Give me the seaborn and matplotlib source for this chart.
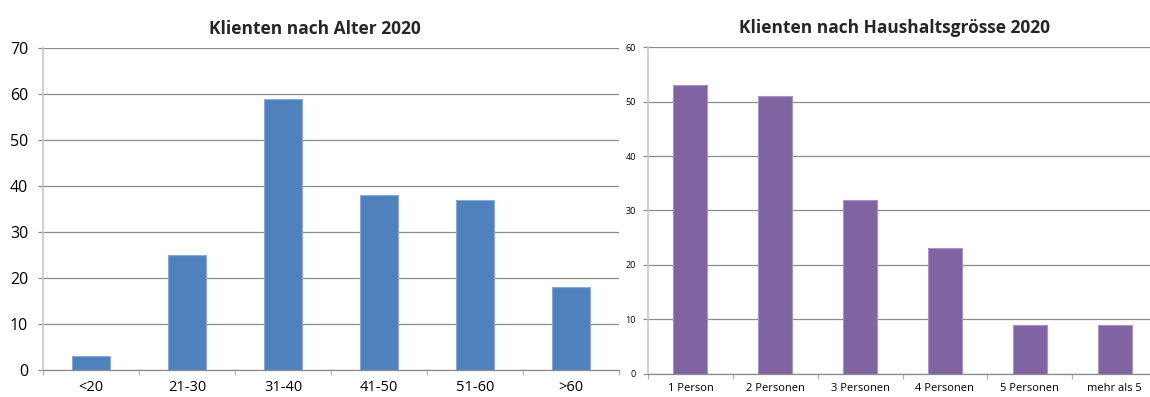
#!/usr/bin/env python3

import pandas as pd
import seaborn as sns
import matplotlib.pyplot as plt
from matplotlib.ticker import FixedLocator

# Chart data
alter_labels = ["<20", "21-30", "31-40", "41-50", "51-60", ">60"]
alter_werte = [3, 25, 59, 38, 37, 18]

haushalt_labels = ["1 Person", "2 Personen", "3 Personen", "4 Personen",
                   "5 Personen", "mehr als 5"]
haushalt_werte = [53, 51, 32, 23, 9, 9]

sns.set_theme()
sns.set_style("white")
plt.rcParams['font.family'] = ['Open Sans', 'DejaVu Sans']

fig = plt.figure(figsize=(11.5, 3.97), dpi=100)
ax1 = fig.add_axes([0.0374, 0.068, 0.501, 0.811])
ax2 = fig.add_axes([0.5635, 0.059, 0.4426, 0.822])


def draw(ax, labels, values, color, edge, ymax, step, title, title_x,
         ytick_size, xtick_size, ypad):
    df = pd.DataFrame({"cat": labels, "val": values})
    sns.barplot(data=df, x="cat", y="val", color=color, width=0.4,
                edgecolor=edge, linewidth=0.8, saturation=1, ax=ax)
    ax.set_xlim(-0.5, len(labels) - 0.5)
    ax.set_ylim(0, ymax)
    ax.set_yticks(range(0, ymax + 1, step))
    ax.set_xlabel("")
    ax.set_ylabel("")
    ax.set_axisbelow(True)
    ax.yaxis.grid(True, color="#8c8c8c", linewidth=0.9)
    ax.xaxis.grid(False)
    for side in ["top", "right"]:
        ax.spines[side].set_visible(False)
    ax.spines["left"].set_color("#c8c8c8")
    ax.spines["left"].set_linewidth(1.2)
    ax.spines["bottom"].set_color("#8c8c8c")
    ax.spines["bottom"].set_linewidth(0.9)
    ax.xaxis.set_minor_locator(
        FixedLocator([i - 0.5 for i in range(len(labels) + 1)]))
    ax.tick_params(axis="x", which="major", length=0, pad=7,
                   labelsize=xtick_size, colors="black")
    ax.tick_params(axis="x", which="minor", bottom=True, length=3.5,
                   color="#b0b0b0", width=0.9)
    ax.tick_params(axis="y", left=True, length=3.6, color="#8c8c8c",
                   width=0.9, labelsize=ytick_size, colors="black", pad=ypad)
    ax.set_title(title, fontsize=12.5, fontweight="bold", pad=10, x=title_x)


draw(ax1, alter_labels, alter_werte, "#4f81bd", "#8aa9d4", 70, 10,
     "Klienten nach Alter 2020", 0.472, 11.5, 10.5, 7)
draw(ax2, haushalt_labels, haushalt_werte, "#8064a2", "#a893c3", 60, 10,
     "Klienten nach Haushaltsgrösse 2020", 0.485, 6.5, 8, 5)

plt.savefig("out.png", dpi=100)
